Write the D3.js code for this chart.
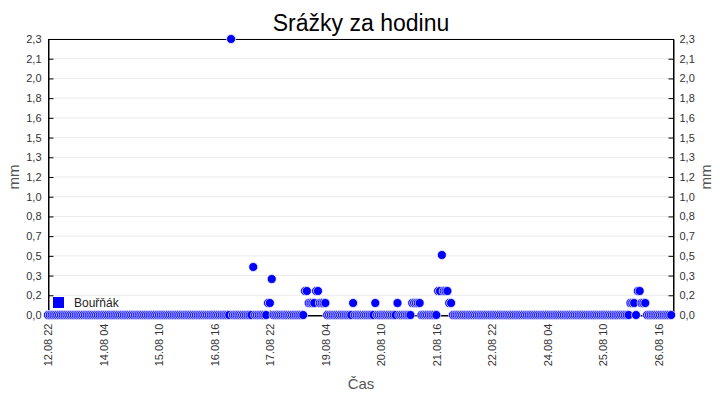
<!DOCTYPE html>
<html><head><meta charset="utf-8">
<script src="https://cdn.jsdelivr.net/npm/d3@7"></script>
<style>body{margin:0;background:#fff}svg{display:block}</style>
</head><body><svg id="c" width="720" height="400"></svg>
<script>
const chartTitle = "Srážky za hodinu";
const seriesName = "Bouřňák";
const yTitle = "mm";
const xTitle = "Čas";
const startTime = "2019-08-12T22:00:00";
const endTime = "2019-08-27T00:00:00";
// hourly precipitation [mm], one row = 24 hours starting at 22:00
const hourlyRain = [
  0,0,0,0,0,0,0,0,0,0,0,0,0,0,0,0,0,0,0,0,0,0,0,0,
  0,0,0,0,0,0,0,0,0,0,0,0,0,0,0,0,0,0,0,0,0,0,0,0,
  0,0,0,0,0,0,0,0,0,0,0,0,0,0,0,0,0,0,0,0,0,0,0,0,
  0,0,0,0,0,0,0,0,0,0,0,0,0,0,0,0,0,0,0,0,0,0,0,0,
  0,0,0,2.3,0,0,0,0,0,0,0,0,0,0,0,0.4,0,0,0,0,0,0,0,0.1,
  0.1,0.3,0,0,0,0,0,0,0,0,0,0,0,0,0,0,0,0,0,0.2,0.2,0.1,0.1,0.1,
  0.1,0.2,0.2,0.1,0.1,0.1,0.1,0,0,0,0,0,0,0,0,0,0,0,0,0,0,0.1,0,0,
  0,0,0,0,0,0,0,0,0,0.1,0,0,0,0,0,0,0,0,0,0,0,0.1,0,0,
  0,0,0,0,0,0.1,0.1,0.1,0.1,0.1,0,0,0,0,0,0,0,0,0,0.2,0.2,0.5,0.2,0.2,
  0.2,0.1,0.1,0,0,0,0,0,0,0,0,0,0,0,0,0,0,0,0,0,0,0,0,0,
  0,0,0,0,0,0,0,0,0,0,0,0,0,0,0,0,0,0,0,0,0,0,0,0,
  0,0,0,0,0,0,0,0,0,0,0,0,0,0,0,0,0,0,0,0,0,0,0,0,
  0,0,0,0,0,0,0,0,0,0,0,0,0,0,0,0,0,0,0,0,0,0,0,0,
  0,0,0,0.1,0.1,0.1,0,0.2,0.2,0.1,0.1,0.1,0,0,0,0,0,0,0,0,0,0,0,0,
  0,0
];
const xTickTimes = ["2019-08-12T22:00:00","2019-08-14T04:00:00","2019-08-15T10:00:00","2019-08-16T16:00:00",
  "2019-08-17T22:00:00","2019-08-19T04:00:00","2019-08-20T10:00:00","2019-08-21T16:00:00",
  "2019-08-22T22:00:00","2019-08-24T04:00:00","2019-08-25T10:00:00","2019-08-26T16:00:00"];
const yMax = 2.3;
const yTickLabels = ["0,0","0,2","0,3","0,5","0,7","0,8","1,0","1,2","1,3","1,5","1,6","1,8","2,0","2,1","2,3"];

const W = 720, H = 400;
const m = {left: 48, right: 47, top: 39, bottom: 85};
const parse = d3.timeParse("%Y-%m-%dT%H:%M:%S");
const t0 = parse(startTime);
const data = hourlyRain.map((v, i) => ({t: d3.timeHour.offset(t0, i), v}));

const x = d3.scaleTime().domain([t0, parse(endTime)]).range([m.left, W - m.right]);
const y = d3.scaleLinear().domain([0, yMax]).range([H - m.bottom, m.top]);
const yTicks = yTickLabels.map((_, i) => i * yMax / (yTickLabels.length - 1));

const svg = d3.select("#c");
const font = "'Liberation Sans', Arial, sans-serif";

// grid
svg.append("g").selectAll("line").data(yTicks.slice(1)).join("line")
  .attr("x1", m.left).attr("x2", W - m.right)
  .attr("y1", d => y(d)).attr("y2", d => y(d))
  .attr("stroke", "#ebebeb").attr("stroke-width", 1);

// frame
svg.append("rect").attr("x", m.left + 0.5).attr("y", m.top + 0.5)
  .attr("width", W - m.left - m.right).attr("height", H - m.top - m.bottom)
  .attr("fill", "none").attr("stroke", "#000").attr("stroke-width", 1);

const fmtY = (d) => yTickLabels[yTicks.indexOf(d)];
const gl = svg.append("g").attr("transform", `translate(${m.left + 0.5},0)`)
  .call(d3.axisLeft(y).tickValues(yTicks).tickFormat(fmtY).tickSize(-5).tickPadding(7));
const gr = svg.append("g").attr("transform", `translate(${W - m.right + 0.5},0)`)
  .call(d3.axisRight(y).tickValues(yTicks).tickFormat(fmtY).tickSize(-5).tickPadding(6));
const fmtX = d3.timeFormat("%d.%m %H");
const gb = svg.append("g").attr("transform", `translate(0,${H - m.bottom + 0.5})`)
  .call(d3.axisBottom(x).tickValues(xTickTimes.map(parse)).tickFormat(fmtX).tickSize(-5));
gb.selectAll("text").attr("transform", "rotate(-90)").attr("text-anchor", "end")
  .attr("x", -8).attr("y", 0).attr("dy", "0.35em");
[gl, gr, gb].forEach(g => {
  g.select(".domain").attr("stroke", "#000");
  g.selectAll(".tick line").attr("stroke", "#000");
  g.selectAll("text").attr("font-family", font).attr("font-size", 11).attr("fill", "#333");
});

// points
svg.append("g").selectAll("circle").data(data).join("circle")
  .attr("cx", d => x(d.t)).attr("cy", d => y(d.v)).attr("r", 4.5)
  .attr("fill", "#0000ff").attr("stroke", "#fff").attr("stroke-width", 0.7);

// legend
svg.append("rect").attr("x", 53).attr("y", 297).attr("width", 11).attr("height", 11).attr("fill", "#0000ff");
svg.append("text").attr("x", 74).attr("y", 307).text(seriesName)
  .attr("font-family", font).attr("font-size", 12).attr("fill", "#222");

// titles
svg.append("text").attr("x", 361).attr("y", 31).attr("text-anchor", "middle").text(chartTitle)
  .attr("font-family", font).attr("font-size", 23).attr("fill", "#000");
svg.append("text").attr("transform", `translate(19,${(m.top + H - m.bottom) / 2}) rotate(-90)`)
  .attr("text-anchor", "middle").text(yTitle)
  .attr("font-family", font).attr("font-size", 15).attr("fill", "#555");
svg.append("text").attr("transform", `translate(711,${(m.top + H - m.bottom) / 2}) rotate(-90)`)
  .attr("text-anchor", "middle").text(yTitle)
  .attr("font-family", font).attr("font-size", 15).attr("fill", "#555");
svg.append("text").attr("x", 361).attr("y", 389).attr("text-anchor", "middle").text(xTitle)
  .attr("font-family", font).attr("font-size", 15).attr("fill", "#555");
</script></body></html>
